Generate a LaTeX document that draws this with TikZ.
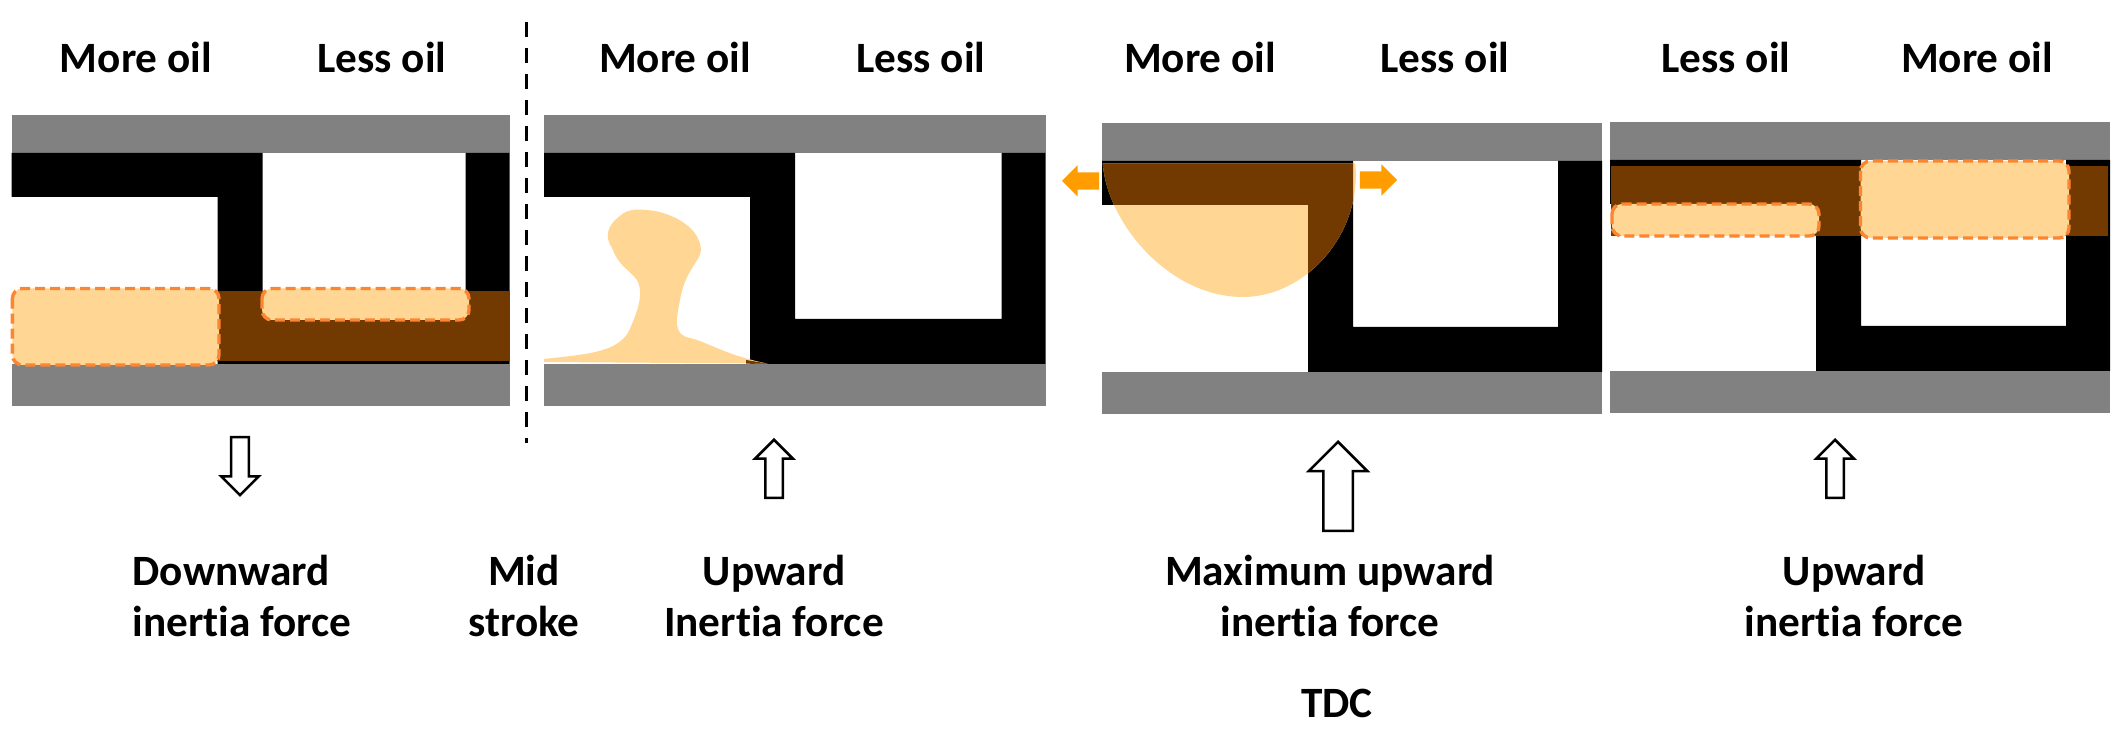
\documentclass[tikz,border=0pt]{standalone}
\usepackage{fontspec}
\setmainfont{Carlito}[Ligatures=NoCommon]
\usetikzlibrary{shapes.arrows}
\definecolor{plate}{HTML}{818181}
\definecolor{brown1}{HTML}{723A00}
\definecolor{oil}{HTML}{FFD693}
\definecolor{oilline}{HTML}{FB8530}
\definecolor{flow}{HTML}{FF9C00}

\begin{document}
\begin{tikzpicture}
[x=.01cm,y=-.01cm,
every node/.style={inner sep=0pt},
txt/.style={font=\bfseries\fontsize{12.3}{14.74}\selectfont,align=center,anchor=base},
force/.style={single arrow,draw=black,fill=white,line width=.025cm,inner sep=.075cm,
minimum height=.58cm,single arrow head extend=.1cm,anchor=tip},
bigforce/.style={force,inner sep=.135cm,minimum height=.89cm,single arrow head extend=.145cm},
flowarrow/.style={single arrow,fill=flow,inner sep=.08cm,minimum height=.37cm,single arrow head extend=.07cm,anchor=tip},
oilbox/.style={fill=oil,draw=oilline,line width=.034cm,dash pattern=on .1cm off .05cm,rounded corners=.1cm}]
\useasboundingbox (0,0) rectangle (2120,734);
%%
%% plates and piston body
\foreach \px/\py/\pw in {11.7/115/498,544/115/501.5,1102/123/500,1610/122/500}{
\begin{scope}[shift={(\px,\py)}]
\fill[plate] (0,0) rectangle (\pw,38.5);
\fill[black] (0,38) -- (251,38) -- (251,204) -- ({\pw-44},204) -- ({\pw-44},38) -- (\pw,38) -- (\pw,249) -- (206,249) -- (206,82) -- (0,82) -- cycle;
\fill[plate] (0,249) rectangle (\pw,291);
\end{scope}
}
%%
%% first panel
\fill[brown1] (217,291) rectangle (509.7,361);
\draw[oilbox] (12.4,288.5) rectangle (219,365);
\draw[oilbox] (262,288.5) rectangle (469,320);
%%
%% second panel
\fill[oil] (544,359) .. controls (590,354) and (615,352) .. (628,333) .. controls (636,315) and (645,295) .. (637,280) .. controls (628,268) and (620,268) .. (612,248) .. controls (605,238) and (606,226) .. (620,216) .. controls (628,208) and (640,209) .. (655,211) .. controls (675,215) and (700,228) .. (701,250) .. controls (700,262) and (685,270) .. (680,300) .. controls (676,320) and (673,335) .. (690,338) .. controls (710,343) and (725,355) .. (767.6,363.6) -- (544,362) -- cycle;
\fill[brown1] (746,360) -- (767.6,363.6) -- (746,363.6) -- cycle;
%%
%% third panel
\def \oilcap {(1102.7,163.5) .. controls (1108,225) and (1170,297) .. (1243,297) .. controls (1305,297) and (1362,235) .. (1355.3,163.5) -- cycle}
\fill[oil] \oilcap;
\begin{scope}
\clip (1102,161) -- (1353,161) -- (1353,327) -- (1308,327) -- (1308,205) -- (1102,205) -- cycle;
\fill[brown1] \oilcap;
\end{scope}
\node[flowarrow,rotate=180] (flowleft) at (1061,181) {};
\node[flowarrow] (flowright) at (1398,180) {};
%%
%% fourth panel
\fill[brown1] (1611,166) rectangle (2108,236);
\draw[oilbox] (1612,204) rectangle (1819,236);
\draw[oilbox] (1860.5,161) rectangle (2069,238);
%%
%% mid stroke line
\coordinate (midtop) at (526,22);
\coordinate (midbot) at (526,443);
\draw[line width=.03cm,dash pattern=on .15cm off .11cm] (midtop) -- (midbot);
%%
%% headings
\node[txt] (more1) at (136,73) {More oil};
\node[txt] (less1) at (382,73) {Less oil};
\node[txt] (more2) at (675,73) {More oil};
\node[txt] (less2) at (921,73) {Less oil};
\node[txt] (more3) at (1200,73) {More oil};
\node[txt] (less3) at (1445,73) {Less oil};
\node[txt] (less4) at (1726,73) {Less oil};
\node[txt] (more4) at (1977,73) {More oil};
%%
%% force arrows
\node[force,rotate=-90] (force1) at (240,497) {};
\node[force,rotate=90] (force2) at (774,438) {};
\node[bigforce,rotate=90] (force3) at (1338,440) {};
\node[force,rotate=90] (force4) at (1835,438) {};
%%
%% captions
\node[txt,align=left] (down) at (242,637) {Downward\\inertia force};
\node[txt] (mid) at (524,637) {Mid\\stroke};
\node[txt] (up) at (774,637) {Upward\\Inertia force};
\node[txt] (maxup) at (1330,637) {Maximum upward\\inertia force};
\node[txt] (up2) at (1854,637) {Upward\\inertia force};
\node[txt] (tdc) at (1337,718) {TDC};
\end{tikzpicture}
\end{document}
